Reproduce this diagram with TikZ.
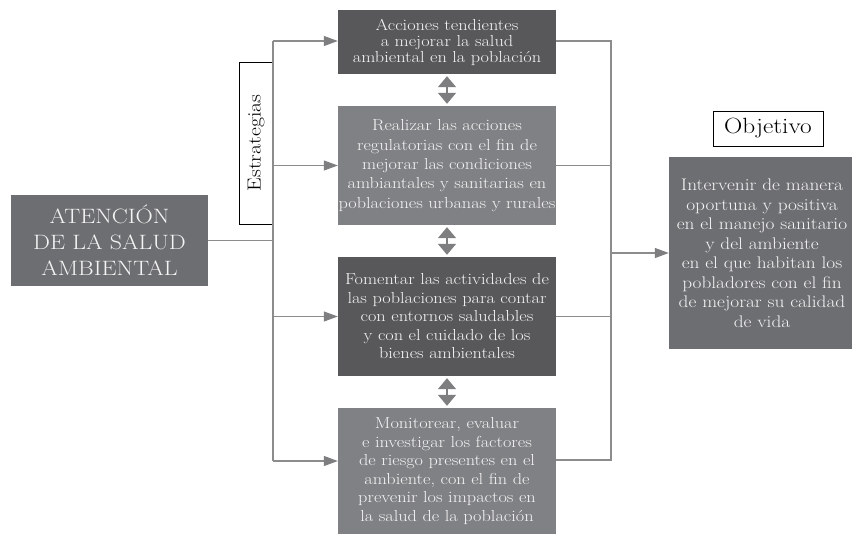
\documentclass[tikz,border=0pt]{standalone}
\usepackage{fontspec}
\setmainfont{Latin Modern Roman}[FakeStretch=1.15]
\usetikzlibrary{arrows.meta}
\definecolor{darkbox}{HTML}{58585A}
\definecolor{midbox}{HTML}{808184}
\definecolor{leftbox}{HTML}{6D6E71}
\definecolor{linegray}{HTML}{8C8C8C}
\definecolor{headgray}{HTML}{7E7E80}
\definecolor{txt}{HTML}{F4F4F4}
\begin{document}
\begin{tikzpicture}[x=1pt,y=-1pt,
  box/.style={inner sep=0pt, text=txt, align=center, minimum width=218pt},
  conn/.style={draw=linegray, line width=1.1pt},
  arr/.style={conn, -{Triangle[length=14pt,width=10pt,color=headgray]}},
  dbl/.style={draw=headgray, line width=1.5pt, shorten <=2pt, shorten >=2pt,
    {Triangle[length=11pt,width=18pt]}-{Triangle[length=11pt,width=18pt]}},
  lbl/.style={draw=black, fill=white, line width=0.9pt, inner sep=0pt}]
\clip (0,0) rectangle (852,536);
\fill[white] (0,0) rectangle (852,536);

% nodes
\node[box, fill=leftbox, minimum width=197pt, minimum height=91pt,
  font=\fontsize{20.8}{26}\selectfont] (A) at (109.5,240.5)
  {ATENCIÓN\\DE LA SALUD\\AMBIENTAL};

\node[lbl, rotate=90, minimum width=162pt, minimum height=34pt,
  font=\fontsize{18.9}{20}\selectfont] (est) at (256,143) {Estrategias};

\node[box, fill=darkbox, minimum height=64pt,
  font=\fontsize{15.9}{16}\selectfont] (b1) at (447,42)
  {Acciones tendientes\\a mejorar la salud\\ambiental en la población};
\node[box, fill=midbox, minimum height=119pt,
  font=\fontsize{15.9}{19.3}\selectfont] (b2) at (447,165.5)
  {Realizar las acciones\\regulatorias con el fin de\\mejorar las condiciones\\ambiantales y sanitarias en\\poblaciones urbanas y rurales};
\node[box, fill=darkbox, minimum height=119pt,
  font=\fontsize{15.9}{18.5}\selectfont] (b3) at (447,316.5)
  {Fomentar las actividades de\\las poblaciones para contar\\con entornos saludables\\y con el cuidado de los\\bienes ambientales};
\node[box, fill=midbox, minimum height=126pt,
  font=\fontsize{15.9}{18.5}\selectfont] (b4) at (447,471)
  {Monitorear, evaluar\\e investigar los factores\\de riesgo presentes en el\\ambiente, con el fin de\\prevenir los impactos en\\la salud de la población};

\node[lbl, minimum width=110pt, minimum height=35pt,
  font=\fontsize{22}{24}\selectfont] (objl) at (768,128.5) {Objetivo};
\node[box, fill=leftbox, minimum width=186pt, minimum height=192pt,
  font=\fontsize{16.8}{19.5}\selectfont] (obj) at (762,253)
  {Intervenir de manera\\oportuna y positiva\\en el manejo sanitario\\y del ambiente\\en el que habitan los\\pobladores con el fin\\de mejorar su calidad\\de vida};

% left trunk
\coordinate (tTop) at (273,41);
\coordinate (tBot) at (273,461);
\draw[conn] (tTop) -- (tBot);
\draw[conn] (A.east) -- (A.east -| tTop);
\draw[arr] (tTop) -- (tTop -| b1.west);
\draw[arr] (b2.west -| tTop) -- (b2.west);
\draw[arr] (b3.west -| tTop) -- (b3.west);
\draw[arr] (tBot) -- (tBot -| b4.west);

% right trunk
\coordinate (rTop) at (611,41);
\coordinate (rBot) at (611,460);
\draw[conn] (rTop -| b1.east) -- (rTop) -- (rBot) -- (rBot -| b4.east);
\draw[conn] (b2.east) -- (b2.east -| rTop);
\draw[conn] (b3.east) -- (b3.east -| rTop);
\draw[arr] (obj.west -| rTop) -- (obj.west);

% double arrows
\draw[dbl] (b1.south) -- (b2.north);
\draw[dbl] (b2.south) -- (b3.north);
\draw[dbl] (b3.south) -- (b4.north);
\end{tikzpicture}
\end{document}
